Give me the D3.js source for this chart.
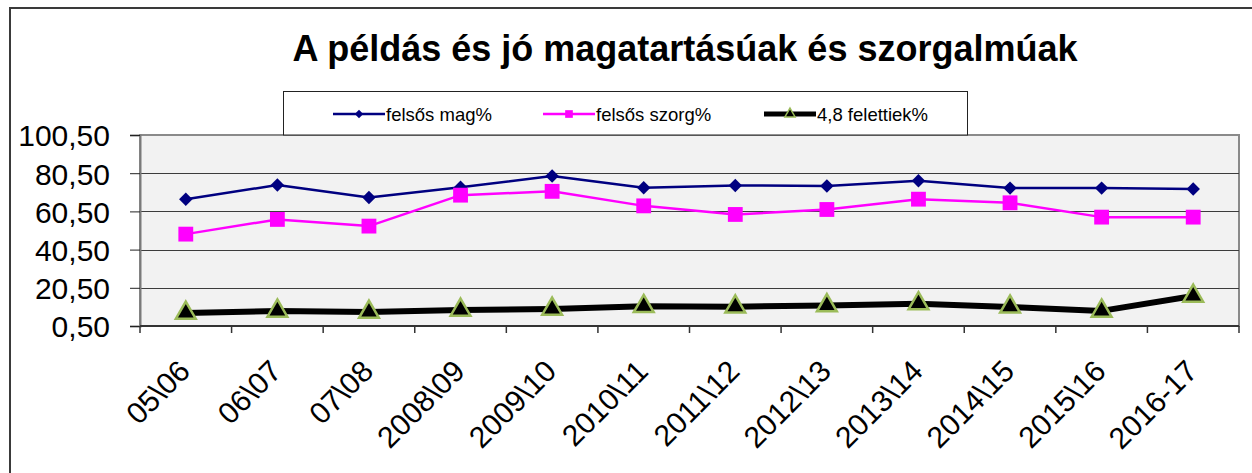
<!DOCTYPE html>
<html>
<head>
<meta charset="utf-8">
<title>A példás és jó magatartásúak és szorgalmúak</title>
<script src="https://cdn.jsdelivr.net/npm/d3@7"></script>
<style>
    body { margin: 0; background: #fff; }
    svg text { font-family: Arial, "Liberation Sans", sans-serif; fill: #000; }
</style>
</head>
<body>
<script>
    // chart data
    var categories = ["05\\06", "06\\07", "07\\08", "2008\\09", "2009\\10", "2010\\11",
                      "2011\\12", "2012\\13", "2013\\14", "2014\\15", "2015\\16", "2016-17"];
    var magValues = [66.9, 74.3, 67.8, 73.1, 79.0, 72.9, 74.1, 73.8, 76.5, 72.7, 72.7, 72.2];
    var szorgValues = [48.6, 56.3, 52.8, 69.0, 71.0, 63.4, 58.9, 61.5, 66.9, 65.0, 57.5, 57.5];
    var felettiekValues = [7.3, 8.4, 7.8, 8.9, 9.4, 10.8, 10.6, 11.2, 12.2, 10.5, 8.4, 16.2];
    var yTicks = [0.5, 20.5, 40.5, 60.5, 80.5, 100.5];
    var seriesNames = ["felsős mag%", "felsős szorg%", "4,8 felettiek%"];
    var titleText = "A példás és jó magatartásúak és szorgalmúak";

    var width = 1252, height = 473;
    var plot = {left: 140, top: 135, right: 1239, bottom: 326};

    var svg = d3.select("body").append("svg")
        .attr("width", width)
        .attr("height", height);

    // outer chart frame (runs off the right and bottom of the picture)
    svg.append("rect")
        .attr("x", 10).attr("y", 8)
        .attr("width", 1300).attr("height", 500)
        .attr("fill", "#fff")
        .attr("stroke", "#3a3a3a")
        .attr("stroke-width", 2);

    var x = d3.scaleBand().domain(categories).range([plot.left, plot.right]).padding(0);
    var y = d3.scaleLinear().domain([0.5, 100.5]).range([plot.bottom, plot.top]);

    var locale = d3.formatLocale({decimal: ",", thousands: " ", grouping: [3], currency: ["", ""]});
    var fmt = locale.format(".2f");

    function cx(i) { return x(categories[i]) + x.bandwidth() / 2; }

    // plot area
    svg.append("rect")
        .attr("x", plot.left).attr("y", plot.top)
        .attr("width", plot.right - plot.left)
        .attr("height", plot.bottom - plot.top)
        .attr("fill", "#f2f2f2")
        .attr("stroke", "#8a8a8a")
        .attr("stroke-width", 2);

    // horizontal grid
    svg.append("g").selectAll("line")
        .data(yTicks.slice(1, -1))
        .enter().append("line")
        .attr("x1", plot.left).attr("x2", plot.right)
        .attr("y1", function (d) { return Math.round(y(d)) + 0.5; })
        .attr("y2", function (d) { return Math.round(y(d)) + 0.5; })
        .attr("stroke", "#3c3c3c")
        .attr("stroke-width", 1);

    // y axis
    var yAxis = d3.axisLeft(y)
        .tickValues(yTicks)
        .tickFormat(fmt)
        .tickSize(10)
        .tickPadding(20);

    var yG = svg.append("g")
        .attr("transform", "translate(" + plot.left + ",0)")
        .call(yAxis);
    yG.select(".domain").attr("stroke", "#7a7a7a").attr("stroke-width", 2);
    yG.selectAll(".tick line").attr("stroke", "#222");
    yG.selectAll(".tick text")
        .style("font-size", "30px")
        .attr("dy", "0.36em");

    // x axis: ticks on category boundaries
    var xEdges = categories.map(function (c) { return x(c); }).concat([plot.right]);
    svg.append("line")
        .attr("x1", plot.left).attr("x2", plot.right)
        .attr("y1", plot.bottom).attr("y2", plot.bottom)
        .attr("stroke", "#333").attr("stroke-width", 2);
    svg.append("g").selectAll("line")
        .data(xEdges)
        .enter().append("line")
        .attr("x1", function (d) { return d; })
        .attr("x2", function (d) { return d; })
        .attr("y1", plot.bottom).attr("y2", plot.bottom + 7)
        .attr("stroke", "#333").attr("stroke-width", 1.5);

    svg.append("g").selectAll("text")
        .data(categories)
        .enter().append("text")
        .attr("transform", function (d, i) {
            return "translate(" + (cx(i) + 6) + "," + 373 + ") rotate(-45)";
        })
        .attr("text-anchor", "end")
        .style("font-size", "30px")
        .text(function (d) { return d; });

    // series
    var series = [
        {name: seriesNames[0], values: magValues, color: "#000080", width: 2.5,
            symbol: d3.symbolDiamond2, size: 115, fill: "#000080", stroke: "none"},
        {name: seriesNames[1], values: szorgValues, color: "#ff00ff", width: 2.5,
            symbol: d3.symbolSquare2, size: 280, fill: "#ff00ff", stroke: "none"},
        {name: seriesNames[2], values: felettiekValues, color: "#000", width: 6,
            symbol: d3.symbolTriangle, size: 170, fill: "#000", stroke: "#9bbb59"}
    ];

    var line = d3.line()
        .x(function (d, i) { return cx(i); })
        .y(function (d) { return y(d); });

    var seriesG = svg.append("g").selectAll("g")
        .data(series)
        .enter().append("g");

    seriesG.append("path")
        .attr("d", function (s) { return line(s.values); })
        .attr("fill", "none")
        .attr("stroke", function (s) { return s.color; })
        .attr("stroke-width", function (s) { return s.width; })
        .attr("stroke-linejoin", "round");

    seriesG.each(function (s) {
        var sym = d3.symbol().type(s.symbol).size(s.size);
        d3.select(this).selectAll("path.mark")
            .data(s.values)
            .enter().append("path")
            .attr("class", "mark")
            .attr("d", sym)
            .attr("transform", function (d, i) { return "translate(" + cx(i) + "," + y(d) + ")"; })
            .attr("fill", s.fill)
            .attr("stroke", s.stroke)
            .attr("stroke-width", 2.5);
    });

    // title
    svg.append("text")
        .attr("x", 685).attr("y", 61)
        .attr("text-anchor", "middle")
        .style("font-size", "36px")
        .style("font-weight", "bold")
        .text(titleText);

    // legend
    var legend = svg.append("g");
    legend.append("rect")
        .attr("x", 283.5).attr("y", 91.5)
        .attr("width", 684).attr("height", 43.5)
        .attr("fill", "#fff")
        .attr("stroke", "#222")
        .attr("stroke-width", 1);

    var legendX = [333, 543, 764];
    var legendMarkSize = [45, 75, 45];
    var legendItems = legend.selectAll("g.item")
        .data(series)
        .enter().append("g")
        .attr("class", "item")
        .attr("transform", function (s, i) { return "translate(" + legendX[i] + ",114)"; });

    legendItems.append("line")
        .attr("x1", 0).attr("x2", 52)
        .attr("stroke", function (s) { return s.color; })
        .attr("stroke-width", function (s, i) { return i === 2 ? 5 : 2.5; });

    legendItems.append("path")
        .attr("d", function (s, i) { return d3.symbol().type(s.symbol).size(legendMarkSize[i])(); })
        .attr("transform", "translate(26,0)")
        .attr("fill", function (s) { return s.fill; })
        .attr("stroke", function (s) { return s.stroke; })
        .attr("stroke-width", 1.5);

    legendItems.append("text")
        .attr("x", 53)
        .attr("dy", "0.36em")
        .style("font-size", "18.5px")
        .text(function (s) { return s.name; });
</script>
</body>
</html>
